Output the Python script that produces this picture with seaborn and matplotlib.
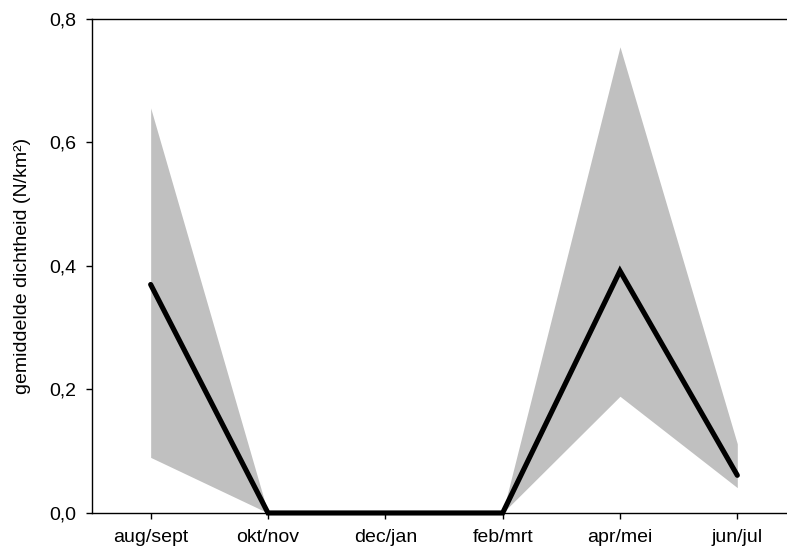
import matplotlib
matplotlib.use("Agg")
import matplotlib.pyplot as plt
import seaborn as sns
import pandas as pd
import numpy as np

categories = ["aug/sept", "okt/nov", "dec/jan", "feb/mrt", "apr/mei", "jun/jul"]
mean_density = [0.37, 0.0, 0.0, 0.0, 0.392, 0.061]
upper_ci = [0.656, 0.0, 0.0, 0.0, 0.755, 0.112]
lower_ci = [0.090, 0.0, 0.0, 0.0, 0.189, 0.041]
y_ticks = [0.0, 0.2, 0.4, 0.6, 0.8]
y_tick_labels = ["0,0", "0,2", "0,4", "0,6", "0,8"]

sns.set_style("white", {"text.color": "black", "axes.labelcolor": "black",
                        "xtick.color": "black", "ytick.color": "black",
                        "axes.edgecolor": "black"})
plt.rcParams["font.family"] = ["Liberation Sans", "DejaVu Sans"]

fig = plt.figure(figsize=(7.87, 5.52), dpi=100)
ax = fig.add_axes([0.1169, 0.0707, 0.8945, 0.8949])

df = pd.DataFrame({"pos": np.arange(len(categories)), "mean": mean_density,
                   "lo": lower_ci, "hi": upper_ci})

ax.fill_between(df["pos"], df["lo"], df["hi"], color="#c0c0c0", linewidth=0, zorder=1)
sns.lineplot(data=df, x="pos", y="mean", color="black", linewidth=3.7, ax=ax, zorder=3,
             solid_joinstyle="miter", clip_on=False)

ax.set_xlim(-0.5, 5.5)
ax.set_ylim(0, 0.8)
ax.set_xticks(range(len(categories)))
ax.set_xticklabels(categories, fontsize=14, color="black")
ax.set_yticks(y_ticks)
ax.set_yticklabels(y_tick_labels, fontsize=14, color="black")
ax.set_xlabel("")
ax.set_ylabel("gemiddelde dichtheid (N/km²)", fontsize=14, labelpad=13, color="black")

for s in ["left", "top", "bottom"]:
    ax.spines[s].set_visible(True)
    ax.spines[s].set_color("black")
    ax.spines[s].set_linewidth(1.0)
ax.spines["right"].set_visible(False)

ax.tick_params(axis="both", direction="out", length=4.5, width=1, color="black",
               labelcolor="black", left=True, bottom=True)
ax.tick_params(axis="y", pad=7)
ax.tick_params(axis="x", pad=7)

fig.savefig("out.png", dpi=100)
